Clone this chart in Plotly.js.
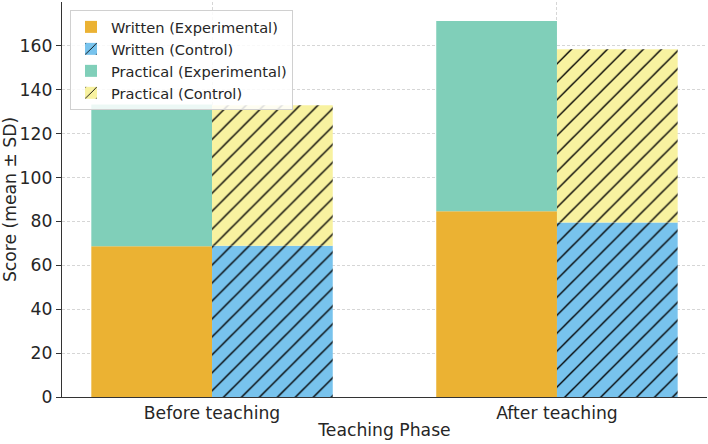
<!DOCTYPE html>
<html>
<head>
<meta charset="utf-8">
<script src="https://cdn.plot.ly/plotly-3.0.1.min.js"></script>
<style>html,body{margin:0;padding:0;background:#fff;}#chart{width:708px;height:444px;}</style>
</head>
<body>
<div id="chart"></div>
<script>
const phases = ["Before teaching", "After teaching"];
const writtenExperimental = [68.7, 84.6];
const writtenControl = [68.9, 79.5];
const practicalExperimental = [64.6, 86.7];
const practicalControl = [64.1, 79.0];

const colWE = "#EBB233";
const colWC = "#78C3ED";
const colPE = "#80CFB9";
const colPC = "#F8F2A0";

function hatch(bg) {
  return {shape: "/", fgcolor: "#000000", bgcolor: bg, size: 12.7, solidity: 0.11, fillmode: "replace"};
}

const traces = [
  {type: "bar", name: "Written (Experimental)", x: phases, y: writtenExperimental,
   offsetgroup: "exp", marker: {color: colWE, line: {width: 0}}},
  {type: "bar", name: "Written (Control)", x: phases, y: writtenControl,
   offsetgroup: "ctrl", marker: {color: colWC, line: {width: 0}, pattern: hatch(colWC)}},
  {type: "bar", name: "Practical (Experimental)", x: phases, y: practicalExperimental, base: writtenExperimental,
   offsetgroup: "exp", marker: {color: colPE, line: {width: 0}}},
  {type: "bar", name: "Practical (Control)", x: phases, y: practicalControl, base: writtenControl,
   offsetgroup: "ctrl", marker: {color: colPC, line: {width: 0}, pattern: hatch(colPC)}}
];

const layout = {
  width: 708, height: 444,
  margin: {l: 62, r: 1, t: 2, b: 47},
  paper_bgcolor: "#ffffff", plot_bgcolor: "#ffffff",
  font: {family: "DejaVu Sans", size: 17.2, color: "#262626"},
  barmode: "group", bargap: 0.3, bargroupgap: 0,
  showlegend: true,
  legend: {x: 0.0124, y: 0.98, xanchor: "left", yanchor: "top", bgcolor: "rgba(255,255,255,0.85)",
           bordercolor: "#d0d0d0", borderwidth: 1, font: {size: 14.6, color: "#262626"},
           traceorder: "normal", tracegroupgap: 0},
  xaxis: {type: "category", range: [-0.435, 1.435], showgrid: true, gridcolor: "#cccccc", griddash: "3px,2px", gridwidth: 0.8,
          showline: true, linecolor: "#333333", linewidth: 1.2, ticks: "", 
          tickfont: {size: 17.2}, zeroline: false,
          title: {text: "Teaching Phase", font: {size: 17.2}, standoff: 2}},
  yaxis: {range: [0, 180], tickvals: [0,20,40,60,80,100,120,140,160], showgrid: true, gridcolor: "#cccccc", griddash: "3px,2px", gridwidth: 0.8,
          showline: true, linecolor: "#333333", linewidth: 1.2, ticks: "outside", ticklen: 5, tickcolor: "#333333",
          tickfont: {size: 17.2}, zeroline: false,
          title: {text: "Score (mean ± SD)", font: {size: 17.2}, standoff: 5}}
};

Plotly.newPlot("chart", traces, layout, {displayModeBar: false, staticPlot: true});
</script>
</body>
</html>
